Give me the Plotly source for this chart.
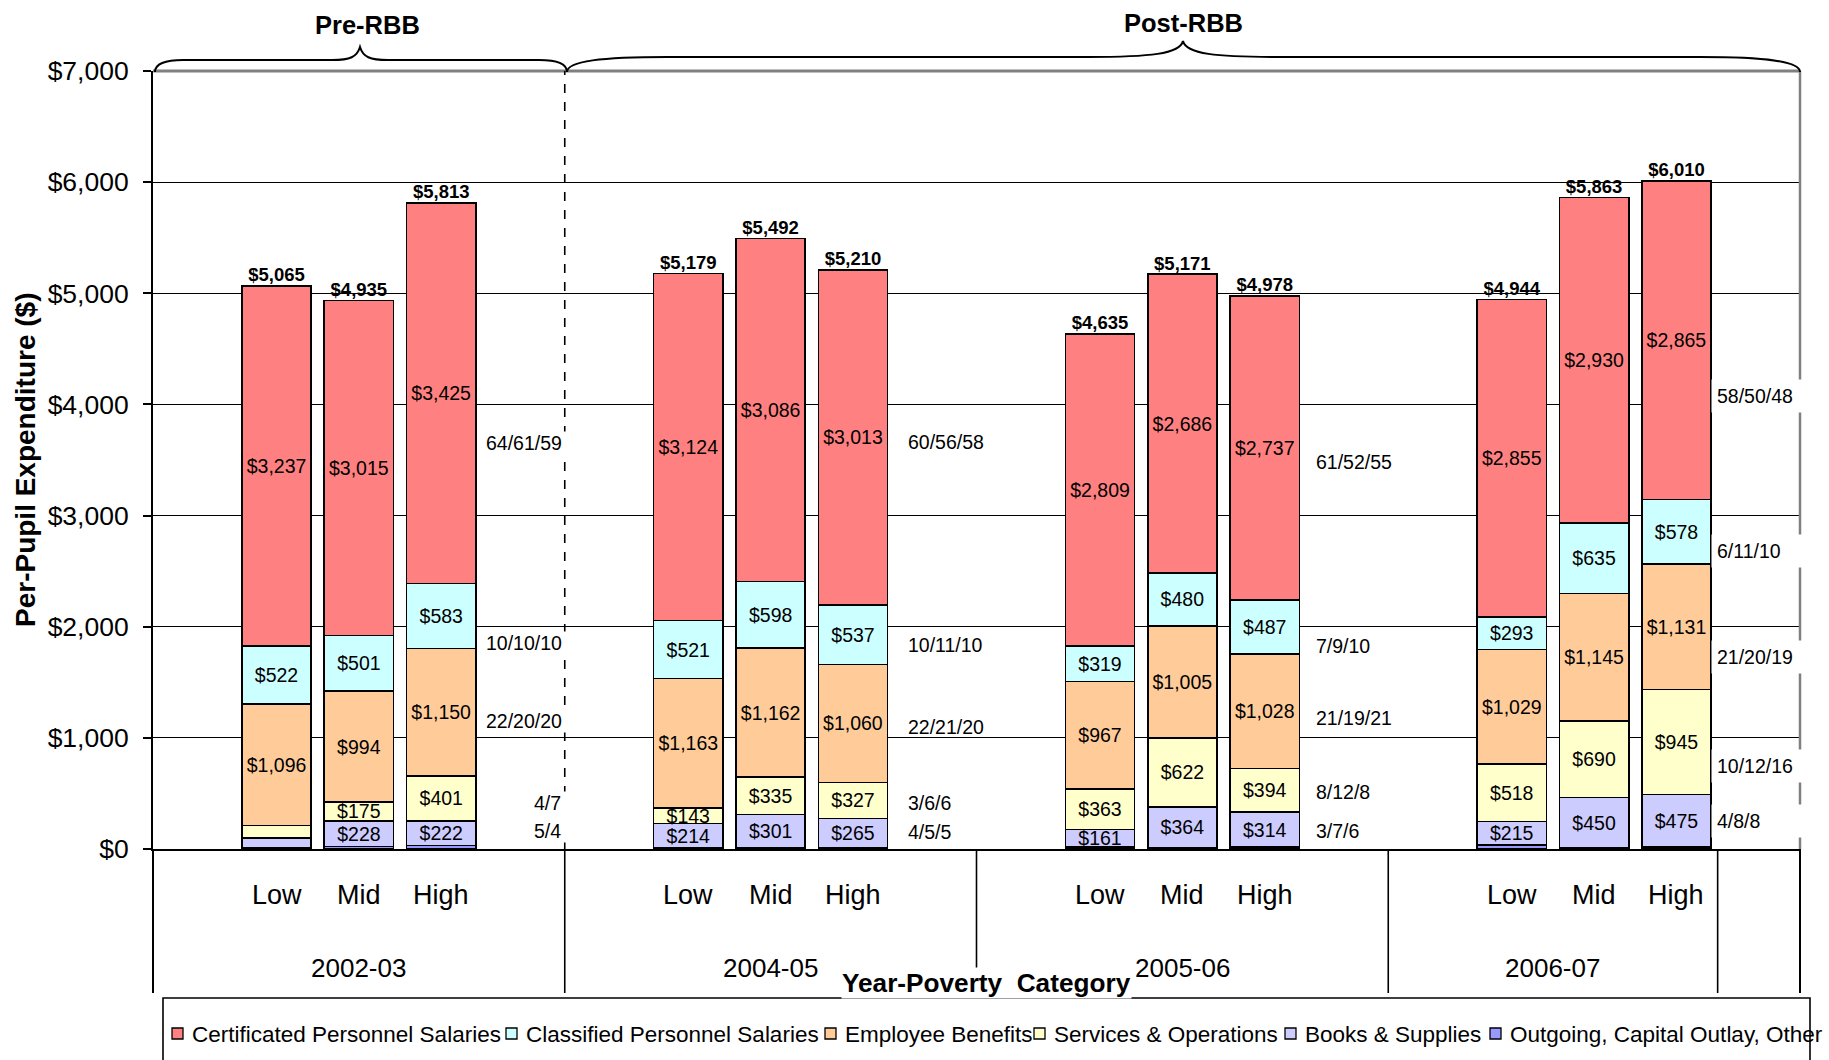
import plotly.graph_objects as go

# ---- data (per-pupil dollars, Low/Mid/High within each year) ----
years = ["2002-03", "2004-05", "2005-06", "2006-07"]
poverty = ["Low", "Mid", "High"]

certificated = [3237, 3015, 3425, 3124, 3086, 3013, 2809, 2686, 2737, 2855, 2930, 2865]
classified = [522, 501, 583, 521, 598, 537, 319, 480, 487, 293, 635, 578]
benefits = [1096, 994, 1150, 1163, 1162, 1060, 967, 1005, 1028, 1029, 1145, 1131]
services = [110, 175, 401, 143, 335, 327, 363, 622, 394, 518, 690, 945]
books = [90, 228, 222, 214, 301, 265, 161, 364, 314, 215, 450, 475]
outgoing = [10, 22, 32, 14, 10, 8, 16, 14, 18, 34, 13, 16]
totals = [5065, 4935, 5813, 5179, 5492, 5210, 4635, 5171, 4978, 4944, 5863, 6010]

# percentage notes beside each year group (Low/Mid/High share of total)
pct_labels = [
    ["64/61/59", "10/10/10", "22/20/20", "4/7", "5/4"],
    ["60/56/58", "10/11/10", "22/21/20", "3/6/6", "4/5/5"],
    ["61/52/55", "7/9/10", "21/19/21", "8/12/8", "3/7/6"],
    ["58/50/48", "6/11/10", "21/20/19", "10/12/16", "4/8/8"],
]
# dollar level the notes sit at
pct_label_level = [
    [3653, 1850, 1150, 414, 162],
    [3662, 1835, 1098, 414, 153],
    [3482, 1826, 1179, 513, 162],
    [4080, 2681, 1727, 747, 252],
]

series = [
    ("Outgoing, Capital Outlay, Other", outgoing, "#9999FF"),
    ("Books & Supplies", books, "#CCCCFF"),
    ("Services & Operations", services, "#FFFFCC"),
    ("Employee Benefits", benefits, "#FFCC99"),
    ("Classified Personnel Salaries", classified, "#CCFFFF"),
    ("Certificated Personnel Salaries", certificated, "#FF8080"),
]

FONT = "Liberation Sans, Arial, sans-serif"
W, H = 1829, 1060
L, R, T, B = 153, 1800, 71, 849   # plot area in pixels


def px(x):
    return (x - L) / (R - L)


def py(y):
    return (B - y) / (B - T)


def label(text, x, y, size, xref="paper", yref="paper", **kw):
    d = dict(text=text, xref=xref, yref=yref, x=x, y=y, showarrow=False,
             xanchor="center", yanchor="middle",
             font=dict(family=FONT, size=size, color="black"))
    d.update(kw)
    return d


# category slots: spacer, Low, Mid, High, spacer ... and one trailing spacer group
slot_ids = []
group_spans = []
for gi, year in enumerate(years):
    labels = ["", "Low", "Mid", "High"] + ([""] if gi < len(years) - 1 else [])
    start = len(slot_ids)
    for j, lab in enumerate(labels):
        slot_ids.append(f"{year}|{lab or 'pad%d' % j}")
    group_spans.append((start, len(slot_ids) - 1))
slot_ids.append("end|pad")

bar_x = [f"{y}|{p}" for y in years for p in poverty]

fig = go.Figure()
for name, vals, color in series:
    fig.add_bar(
        x=bar_x, y=vals, name=name, width=0.84,
        marker=dict(color=color, line=dict(color="black", width=1.6)),
        text=[f"${v:,}" if v >= 120 else "" for v in vals],
        textposition="inside", insidetextanchor="middle", textangle=0,
        textfont=dict(family=FONT, size=19.5, color="black"),
        showlegend=False, hoverinfo="skip",
    )

fig.add_scatter(
    x=bar_x, y=totals, mode="text",
    text=[f"<b>${v:,}</b>" for v in totals],
    textposition="top center",
    textfont=dict(family=FONT, size=18.5, color="black"),
    showlegend=False, cliponaxis=False, hoverinfo="skip",
)

shapes = []
ann = []

# frame: grey top and right edges, axis extensions into the category table
shapes.append(dict(type="line", xref="paper", yref="paper", x0=0, x1=1, y0=1, y1=1,
                   line=dict(color="#808080", width=3)))
shapes.append(dict(type="line", xref="paper", yref="paper", x0=1, x1=1, y0=0, y1=1,
                   line=dict(color="#808080", width=2.5)))
shapes.append(dict(type="line", xref="paper", yref="paper", x0=1, x1=1, y0=py(993), y1=0,
                   line=dict(color="black", width=2)))
shapes.append(dict(type="line", xref="paper", yref="paper", x0=0, x1=0, y0=py(993), y1=0,
                   line=dict(color="black", width=2)))
for start, end in group_spans:
    shapes.append(dict(type="line", xref="x", yref="paper", x0=end + 0.5, x1=end + 0.5,
                       y0=py(993), y1=0, line=dict(color="black", width=1.6)))

# dashed Pre/Post divider
shapes.append(dict(type="line", xref="x", yref="paper", x0=group_spans[0][1] + 0.5,
                   x1=group_spans[0][1] + 0.5, y0=0, y1=1,
                   line=dict(color="black", width=1.6, dash="dash")))


def brace(x0, xm, x1, r_end, r_mid, y_base=72, y_flat=58, y_peak=45):
    pts = [
        ("M", [(x0, y_base)]),
        ("C", [(x0, y_flat + 4), (x0 + r_end * 0.35, y_flat), (x0 + r_end, y_flat)]),
        ("L", [(xm - r_mid, y_flat)]),
        ("C", [(xm - r_mid * 0.35, y_flat), (xm - 3, y_flat - 3), (xm, y_peak)]),
        ("C", [(xm + 3, y_flat - 3), (xm + r_mid * 0.35, y_flat), (xm + r_mid, y_flat)]),
        ("L", [(x1 - r_end, y_flat)]),
        ("C", [(x1 - r_end * 0.35, y_flat), (x1, y_flat + 4), (x1, y_base)]),
    ]
    out = []
    for cmd, ps in pts:
        out.append(cmd + " " + " ".join(f"{px(a):.5f},{py(b):.5f}" for a, b in ps))
    return " ".join(out)


shapes.append(dict(type="path", xref="paper", yref="paper",
                   path=brace(155, 360, 567, 28, 28, y_flat=60, y_peak=47),
                   line=dict(color="black", width=2)))
shapes.append(dict(type="path", xref="paper", yref="paper",
                   path=brace(567, 1183, 1800, 100, 95, y_flat=57, y_peak=41),
                   line=dict(color="black", width=2)))
ann.append(label("<b>Pre-RBB</b>", px(367), py(25), 25.5))
ann.append(label("<b>Post-RBB</b>", px(1183), py(23), 25.5))

# category table labels
for (start, end), year in zip(group_spans, years):
    for p in poverty:
        ann.append(label(p, f"{year}|{p}", py(895), 27, xref="x"))
    ann.append(label(year, (start + end) / 2, py(968), 26, xref="x"))

ann.append(label("<b>Year-Poverty\u00a0 Category</b>", px(986), py(983), 26.2,
                 bgcolor="white", borderpad=0))
ann.append(label("<b>Per-Pupil Expenditure ($)</b>", px(25), 0.5, 28, textangle=-90))

# percentage notes
pct_anchor = [(568, "right"), (906, "left"), (1314, "left"), (1711, "left")]
for notes, levels, (ax_px, side) in zip(pct_labels, pct_label_level, pct_anchor):
    for note, lev in zip(notes, levels):
        a = label(note, px(ax_px), lev, 19.5, yref="y", xanchor=side)
        if side == "right":
            a.update(text=note + "\u00a0", bgcolor="white", borderpad=0)
        elif ax_px > 1600:
            a.update(bgcolor="white", borderpad=5, width=84, align="left")
        ann.append(a)

# legend drawn by hand (single tight row, as in the original)
legend_order = list(reversed(series))
legend_px = [178, 512, 831, 1040, 1291, 1496]
shapes.append(dict(type="rect", xref="paper", yref="paper", x0=px(163), x1=px(1810),
                   y0=py(1090), y1=py(998), line=dict(color="black", width=1.6)))
for (name, _, color), mx in zip(legend_order, legend_px):
    shapes.append(dict(type="rect", xref="paper", yref="paper",
                       x0=px(mx - 6), x1=px(mx + 5), y0=py(1039), y1=py(1028),
                       fillcolor=color, line=dict(color="black", width=1.3)))
    ann.append(label(name, px(mx + 12), py(1034), 22.5, xanchor="left"))

fig.update_layout(
    width=W, height=H, autosize=False,
    margin=dict(l=L, r=W - R, t=T, b=H - B),
    barmode="stack",
    plot_bgcolor="white", paper_bgcolor="white",
    uniformtext=dict(minsize=19.5, mode="show"),
    shapes=shapes, annotations=ann,
    showlegend=False,
    xaxis=dict(type="category", categoryorder="array", categoryarray=slot_ids,
               range=[-0.5, len(slot_ids) - 0.5], showticklabels=False, ticks="",
               showgrid=False, showline=True, linecolor="black", linewidth=1.6,
               zeroline=False),
    yaxis=dict(range=[0, 7000], dtick=1000, tickprefix="$", tickformat=",d",
               showgrid=True, gridcolor="black", gridwidth=1.4, zeroline=False,
               showline=True, linecolor="black", linewidth=2,
               ticks="outside", ticklen=8, tickwidth=1.5, tickcolor="black",
               ticklabelstandoff=9,
               tickfont=dict(family=FONT, size=26.5, color="black")),
)

# drop the page's default body margin so the figure sits flush in the window
fig.write_html("out.html", config={"displayModeBar": False},
               post_script="document.body.style.margin='0';"
                           "document.body.style.overflow='hidden';")
